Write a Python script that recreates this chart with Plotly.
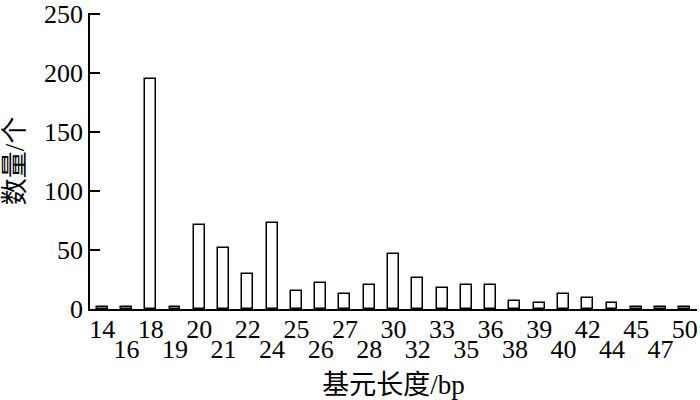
import plotly.graph_objects as go

categories = ["14", "16", "18", "19", "20", "21", "22", "24", "25", "26", "27", "28", "30",
              "32", "33", "35", "36", "38", "39", "40", "42", "44", "45", "47", "50"]
counts = [2, 2, 195, 2, 71, 52, 30, 73, 15, 22, 13, 20, 47,
          26, 18, 20, 20, 7, 5, 13, 9, 5, 2, 2, 2]
y_ticks = [0, 50, 100, 150, 200, 250]

FONT = "Liberation Serif, 'Times New Roman', 'Noto Sans CJK SC', serif"
FS = 26
TFS = 27

idx = list(range(len(categories)))
upper_idx = idx[0::2]
lower_idx = idx[1::2]

fig = go.Figure()
fig.add_trace(go.Bar(
    x=idx, y=counts, width=0.45,
    marker=dict(color="white", line=dict(color="black", width=1.5)),
    showlegend=False, hoverinfo="skip",
))
# invisible carrier so the second (lower-row) label axis is drawn
fig.add_trace(go.Scatter(
    x=idx, y=counts, xaxis="x2", mode="markers",
    marker=dict(opacity=0, size=1), showlegend=False, hoverinfo="skip",
))

fig.update_layout(
    width=700, height=400,
    margin=dict(l=90, r=3, t=13, b=91),
    plot_bgcolor="white", paper_bgcolor="white",
    font=dict(family=FONT, size=FS, color="black"),
    bargap=0,
    xaxis=dict(
        range=[-0.5, len(categories) - 0.5],
        tickmode="array",
        tickvals=upper_idx,
        ticktext=[categories[i] for i in upper_idx],
        ticks="", showgrid=False, zeroline=False,
        showline=True, linecolor="black", linewidth=1.5,
        ticklabelstandoff=-4,
        tickfont=dict(size=FS),
        automargin=False,
        title=dict(text="基元长度/bp", font=dict(size=TFS), standoff=42),
    ),
    xaxis2=dict(
        overlaying="x", anchor="y", side="bottom",
        range=[-0.5, len(categories) - 0.5],
        tickmode="array",
        tickvals=lower_idx,
        ticktext=[categories[i] for i in lower_idx],
        ticks="", showgrid=False, zeroline=False, showline=False,
        ticklabelstandoff=22,
        tickfont=dict(size=FS),
        automargin=False,
    ),
    yaxis=dict(
        range=[0, 251],
        tickmode="array", tickvals=y_ticks,
        ticks="inside", ticklen=10, tickwidth=1.5, tickcolor="black",
        showgrid=False, zeroline=False,
        showline=True, linecolor="black", linewidth=1.5,
        ticklabelstandoff=0,
        ticklabeloverflow="allow",
        tickfont=dict(size=FS),
        automargin=False,
        title=dict(text="数量/个", font=dict(size=TFS), standoff=12),
    ),
)

fig.write_html("out.html", config={"displayModeBar": False},
               post_script="document.body.style.margin='0';")
